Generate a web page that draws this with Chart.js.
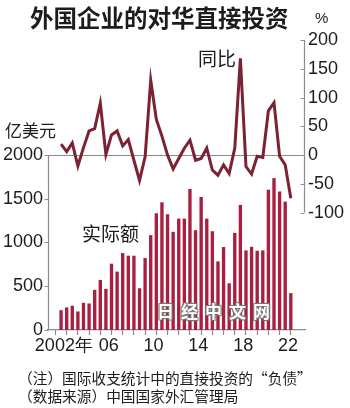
<!DOCTYPE html>
<html>
<head>
<meta charset="utf-8">
<script src="https://cdn.jsdelivr.net/npm/chart.js@4/dist/chart.umd.min.js"></script>
<style>
body { margin: 0; background: #fff; width: 350px; height: 408px; overflow: hidden; position: relative; font-family: "Noto Sans CJK SC", sans-serif; }
#wrap { position: absolute; left: 0; top: 0; width: 350px; height: 408px; }
.t { position: absolute; white-space: nowrap; color: #1c1c1c; line-height: 1; }
</style>
</head>
<body>
<div id="wrap"><canvas id="chart"></canvas></div>
<div class="t" style="left:30px;top:6px;font-size:23.5px;font-weight:bold">外国企业的对华直接投资</div>
<div class="t" style="left:315px;top:10px;font-size:15px;font-family:'Liberation Sans'">%</div>
<div class="t" style="left:5px;top:121px;font-size:17px">亿美元</div>
<div class="t" style="left:198px;top:48px;font-size:19px">同比</div>
<div class="t" style="left:82px;top:223px;font-size:19px">实际额</div>
<div class="t" style="left:157px;top:302px;font-size:17px;font-weight:bold;letter-spacing:7px;color:#fff;text-shadow:0 0 1px #777,1px 1px 1px #777,-1px -1px 1px #777,1px -1px 1px #777,-1px 1px 1px #777">日经中文网</div>
<div class="t" style="left:18px;top:371px;font-size:14.7px">（注）国际收支统计中的直接投资的“负债”</div>
<div class="t" style="left:18px;top:389px;font-size:14.7px">（数据来源）中国国家外汇管理局</div>
<script>
// half-year periods 2002H1 .. 2022H2
var years = [];
for (var y = 2002; y <= 2022; y++) { years.push(y); }

// actual amount, 100 million USD (half-year)
var amounts = [227, 258, 277, 212, 311, 303, 459, 572, 470, 758,
               667, 879, 849, 849, 477, 822, 1084, 1334, 1459, 1323,
               1122, 1273, 1273, 1611, 1141, 1520, 1273, 1129, 785, 948,
               534, 1110, 1429, 910, 951, 906, 910, 1603, 1736, 1584,
               1467, 421];

// year-on-year change, %
var yoy = [19, 6, 21, -19, 13, 42, 46, 90, 1, 35,
           42, 16, 27, -9, -44, -3, 130, 62, 33, 0,
           -24, -6, 12, 26, -9, -6, 12, -26, -35, -17,
           -32, 12, 168, -20, -33, -2, -4, 77, 91, -2,
           -17, -75];

var leftTicks = [0, 500, 1000, 1500, 2000];
var rightTicks = [-100, -50, 0, 50, 100, 150, 200];
var yearLabels = { 2002: '2002年', 2006: '06', 2010: '10', 2014: '14', 2018: '18', 2022: '22' };

// x ticks: year boundaries (tick marks) and year centres (labels)
var xTicks = [];
for (var k = 0; k <= 2 * years.length; k++) { xTicks.push(k - 0.5); }

var axisColor = '#8c8c8c';

var axisLines = {
    id: 'axisLines',
    beforeDatasetsDraw: function (chart) {
        var ctx = chart.ctx, area = chart.chartArea;
        var yl = chart.scales.y, yr = chart.scales.y2;
        ctx.save();
        ctx.strokeStyle = axisColor;
        ctx.lineWidth = 1.2;
        ctx.beginPath();
        // zero line of the % axis
        var z = Math.round(yr.getPixelForValue(0)) + 0.5;
        ctx.moveTo(area.left, z); ctx.lineTo(area.right, z);
        // left axis
        var lx = Math.round(area.left) + 0.5;
        ctx.moveTo(lx, yl.getPixelForValue(0));
        ctx.lineTo(lx, yl.getPixelForValue(2000));
        leftTicks.forEach(function (v) {
            var p = Math.round(yl.getPixelForValue(v)) + 0.5;
            ctx.moveTo(lx - 4, p); ctx.lineTo(lx, p);
        });
        // right axis
        var rx = Math.round(area.right) - 0.5;
        ctx.moveTo(rx, yr.getPixelForValue(200));
        ctx.lineTo(rx, yr.getPixelForValue(-100));
        rightTicks.forEach(function (v) {
            var p = Math.round(yr.getPixelForValue(v)) + 0.5;
            ctx.moveTo(rx - 4, p); ctx.lineTo(rx, p);
        });
        ctx.stroke();
        ctx.restore();
    }
};

var numFont = { family: 'Liberation Sans', size: 18 };
var plain = function (v) { return String(v); };

new Chart(document.getElementById('chart'), {
    type: 'bar',
    data: {
        datasets: [
            {
                type: 'line',
                label: '同比',
                data: yoy.map(function (v, i) { return { x: i, y: v }; }),
                yAxisID: 'y2',
                borderColor: '#7b2333',
                borderWidth: 3,
                pointRadius: 0,
                tension: 0,
                order: 0
            },
            {
                type: 'bar',
                label: '实际额',
                data: amounts.map(function (v, i) { return { x: i, y: v }; }),
                yAxisID: 'y',
                backgroundColor: '#a81f40',
                barPercentage: 0.6,
                categoryPercentage: 1,
                order: 1
            }
        ]
    },
    options: {
        responsive: true,
        maintainAspectRatio: false,
        animation: false,
        layout: { padding: { top: 40, bottom: 50, left: 0, right: 0 } },
        plugins: { legend: { display: false }, tooltip: { enabled: false } },
        scales: {
            x: {
                type: 'linear',
                min: -1.8,
                max: 43,
                afterBuildTicks: function (scale) {
                    scale.ticks = xTicks.map(function (v) { return { value: v }; });
                },
                afterFit: function (scale) { scale.height = 28; },
                ticks: {
                    autoSkip: false,
                    maxRotation: 0,
                    padding: 0,
                    color: '#1c1c1c',
                    font: numFont,
                    callback: function (v) {
                        if (Math.round(v + 0.5) % 2 === 0) { return ''; }
                        var yr = years[Math.round((v - 0.5) / 2)];
                        return yearLabels[yr] || '';
                    }
                },
                grid: {
                    drawOnChartArea: false,
                    tickLength: 5,
                    tickWidth: 1.2,
                    tickColor: function (c) {
                        var v = c.tick ? c.tick.value : 0;
                        return Math.round(v + 0.5) % 2 === 0 ? axisColor : 'rgba(0,0,0,0)';
                    }
                },
                border: { color: axisColor, width: 1.2 }
            },
            y: {
                position: 'left',
                min: 0,
                max: 3314,
                afterBuildTicks: function (scale) {
                    scale.ticks = leftTicks.map(function (v) { return { value: v }; });
                },
                afterFit: function (scale) { scale.width = 48; },
                ticks: { padding: 5, color: '#1c1c1c', font: numFont, callback: plain },
                grid: { display: false, drawTicks: false, tickLength: 0 },
                border: { display: false }
            },
            y2: {
                position: 'right',
                min: -304,
                max: 200,
                afterBuildTicks: function (scale) {
                    scale.ticks = rightTicks.map(function (v) { return { value: v }; });
                },
                afterFit: function (scale) { scale.width = 45; },
                ticks: { padding: 3, color: '#1c1c1c', font: numFont, callback: plain },
                grid: { display: false, drawTicks: false, tickLength: 0 },
                border: { display: false }
            }
        }
    },
    plugins: [axisLines]
});
</script>
</body>
</html>
